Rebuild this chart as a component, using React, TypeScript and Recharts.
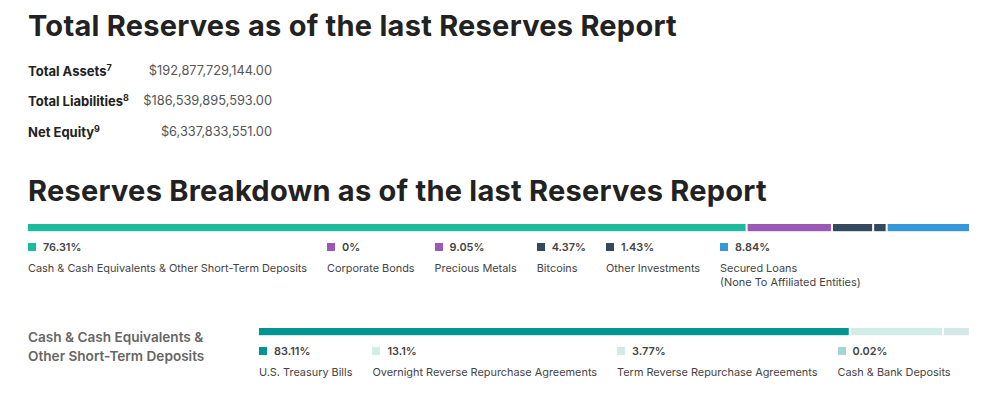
import React from 'react';
import { BarChart, Bar, XAxis, YAxis } from 'recharts';

// summary figures
const summaryLabels = ['Total Assets', 'Total Liabilities', 'Net Equity'];
const summaryNotes = ['7', '8', '9'];
const summaryValues = ['$192,877,729,144.00', '$186,539,895,593.00', '$6,337,833,551.00'];

// reserves breakdown
const reserveNames = [
  'Cash & Cash Equivalents & Other Short-Term Deposits',
  'Corporate Bonds',
  'Precious Metals',
  'Bitcoins',
  'Other Investments',
  'Secured Loans',
];
const reserveNotes = ['', '', '', '', '', '(None To Affiliated Entities)'];
const reserveShares = [76.31, 0, 9.05, 4.37, 1.43, 8.84];
const reserveColors = ['#1abc9c', '#9b59b6', '#9b59b6', '#34495e', '#34495e', '#3498db'];

// cash breakdown
const cashNames = [
  'U.S. Treasury Bills',
  'Overnight Reverse Repurchase Agreements',
  'Term Reverse Repurchase Agreements',
  'Cash & Bank Deposits',
];
const cashShares = [83.11, 13.1, 3.77, 0.02];
const cashColors = ['#009590', '#d2ece6', '#d3e8e7', '#a5d6d3'];

const FONT = 'Inter, "Noto Sans", sans-serif';

const GapRect = (props: any) => {
  const { x, y, width, height, fill } = props;
  if (!width || width <= 0) return null;
  return <rect x={x} y={y} width={Math.max(width - 2, 0)} height={height} fill={fill} />;
};

const StackBar = ({ shares, colors, width }: { shares: number[]; colors: string[]; width: number }) => {
  const row: Record<string, number | string> = { name: 'total' };
  shares.forEach((v, i) => (row['s' + i] = v));
  return (
    <BarChart
      width={width}
      height={8}
      data={[row]}
      layout="vertical"
      margin={{ top: 0, right: 0, bottom: 0, left: 0 }}
      barCategoryGap={0}
    >
      <XAxis type="number" domain={[0, 100]} hide />
      <YAxis type="category" dataKey="name" hide width={0} />
      {shares.map((_, i) => (
        <Bar
          key={i}
          dataKey={'s' + i}
          stackId="a"
          fill={colors[i]}
          barSize={8}
          shape={GapRect}
          isAnimationActive={false}
        />
      ))}
    </BarChart>
  );
};

const Legend = ({
  names,
  shares,
  colors,
  notes,
  left,
  top,
}: {
  names: string[];
  shares: number[];
  colors: string[];
  notes?: string[];
  left: number;
  top: number;
}) => (
  <div style={{ position: 'absolute', left, top, display: 'flex', gap: 20, fontSize: 10.9, color: '#444' }}>
    {names.map((n, i) => (
      <div key={n}>
        <div style={{ display: 'flex', alignItems: 'center', height: 14, fontWeight: 600 }}>
          <span style={{ width: 8, height: 8, background: colors[i], marginRight: 7, display: 'inline-block' }} />
          {shares[i]}%
        </div>
        <div style={{ marginTop: 8, lineHeight: '13.5px', whiteSpace: 'nowrap' }}>
          {n}
          {notes && notes[i] ? (
            <>
              <br />
              {notes[i]}
            </>
          ) : null}
        </div>
      </div>
    ))}
  </div>
);

const titleStyle: React.CSSProperties = {
  position: 'absolute',
  left: 28,
  fontWeight: 700,
  fontSize: 29,
  letterSpacing: 0.25,
  lineHeight: '28px',
  color: '#222',
  whiteSpace: 'nowrap',
};

export default function App() {
  return (
    <div
      style={{
        position: 'absolute',
        left: 0,
        top: 0,
        width: 1000,
        height: 393,
        background: '#fff',
        fontFamily: FONT,
        overflow: 'hidden',
      }}
    >
      <div style={{ ...titleStyle, top: 12 }}>Total Reserves as of the last Reserves Report</div>

      {summaryLabels.map((l, i) => (
        <div
          key={l}
          style={{
            position: 'absolute',
            left: 28,
            top: [63, 93, 124][i],
            width: 244,
            display: 'flex',
            justifyContent: 'space-between',
            fontSize: 13,
            lineHeight: '16px',
            whiteSpace: 'nowrap',
          }}
        >
          <span style={{ fontWeight: 700, color: '#222' }}>
            {l}
            <sup style={{ fontSize: 9, lineHeight: 0 }}>{summaryNotes[i]}</sup>
          </span>
          <span style={{ color: '#555', fontSize: 12.8 }}>{summaryValues[i]}</span>
        </div>
      ))}

      <div style={{ ...titleStyle, top: 177 }}>Reserves Breakdown as of the last Reserves Report</div>

      <div style={{ position: 'absolute', left: 28, top: 224 }}>
        <StackBar shares={reserveShares} colors={reserveColors} width={943} />
      </div>
      <Legend names={reserveNames} shares={reserveShares} colors={reserveColors} notes={reserveNotes} left={28} top={240} />

      <div
        style={{
          position: 'absolute',
          left: 28,
          top: 327.5,
          fontSize: 13.6,
          fontWeight: 600,
          lineHeight: '19.5px',
          color: '#666',
        }}
      >
        Cash &amp; Cash Equivalents &amp;
        <br />
        Other Short-Term Deposits
      </div>
      <div style={{ position: 'absolute', left: 259, top: 328 }}>
        <StackBar shares={cashShares} colors={cashColors} width={712} />
      </div>
      <Legend names={cashNames} shares={cashShares} colors={cashColors} left={259} top={344} />
    </div>
  );
}
